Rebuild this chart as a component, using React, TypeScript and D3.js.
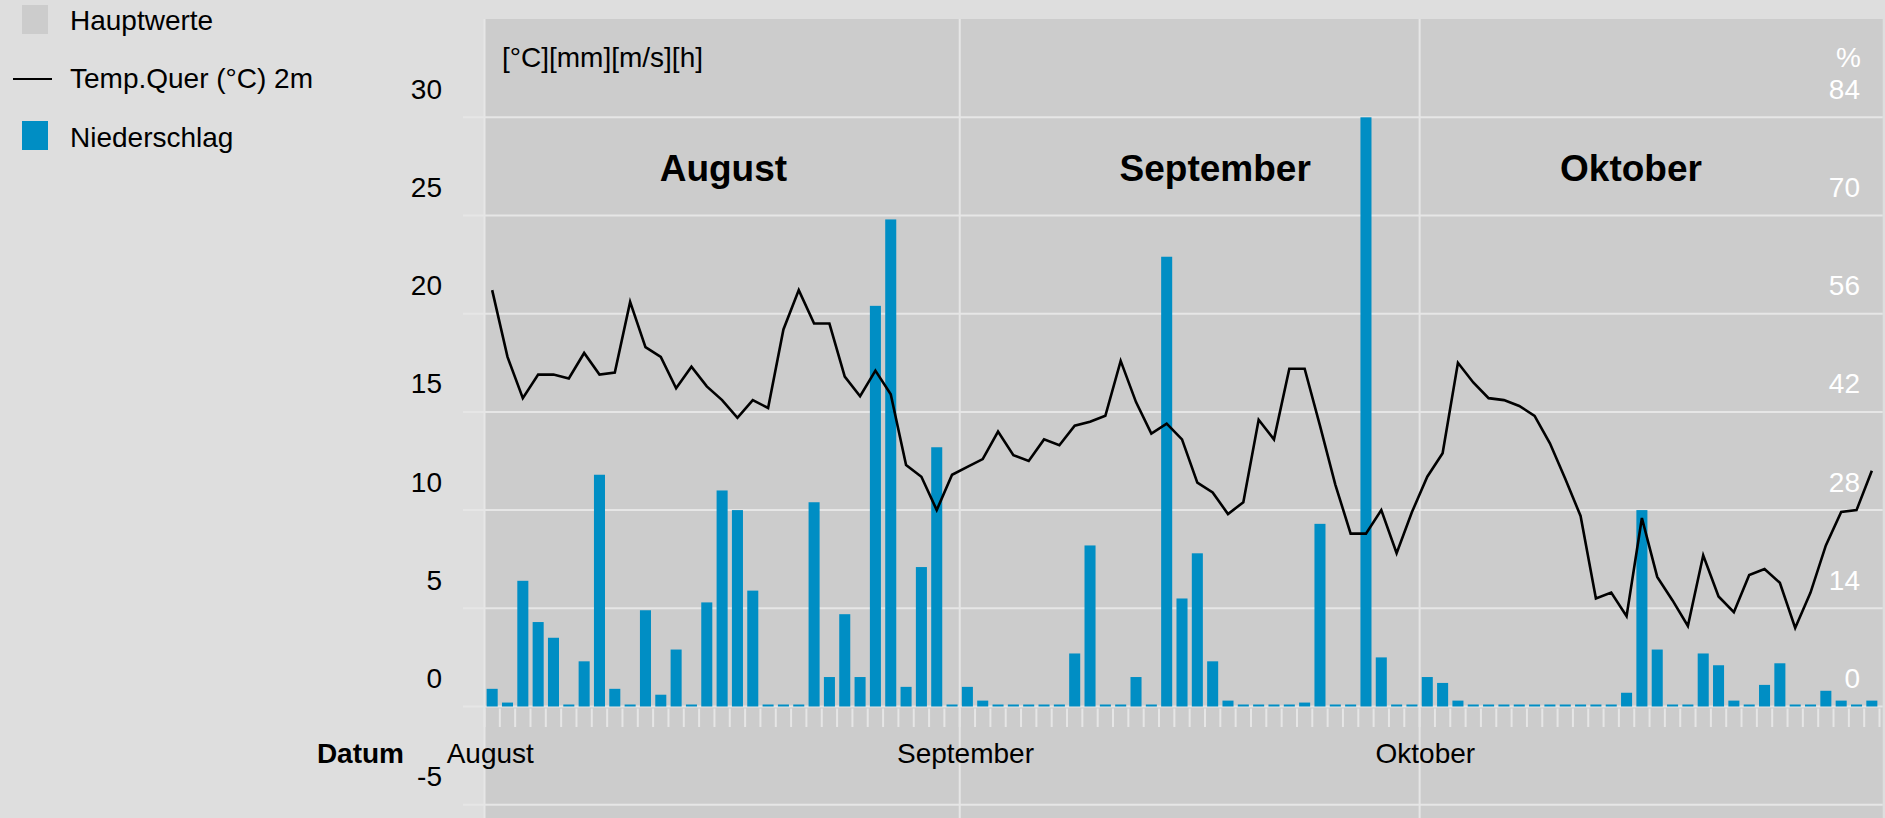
import React from "react";
import * as d3 from "d3";

const width = 1885;
const height = 818;

// Niederschlag [mm] per day
const precipAug = [0.9, 0.2, 6.4, 4.3, 3.5, 0, 2.3, 11.8, 0.9, 0, 4.9, 0.6, 2.9, 0, 5.3, 11.0, 10.0, 5.9, 0, 0, 0, 10.4, 1.5, 4.7, 1.5, 20.4, 24.8, 1.0, 7.1, 13.2, 0];
const precipSep = [1.0, 0.3, 0, 0, 0, 0, 0, 2.7, 8.2, 0, 0, 1.5, 0, 22.9, 5.5, 7.8, 2.3, 0.3, 0, 0, 0, 0, 0.2, 9.3, 0, 0, 30.0, 2.5, 0, 0];
const precipOct = [1.5, 1.2, 0.3, 0, 0, 0, 0, 0, 0, 0, 0, 0, 0, 0.7, 10.0, 2.9, 0, 0, 2.7, 2.1, 0.3, 0, 1.1, 2.2, 0, 0, 0.8, 0.3, 0, 0.3];

// Temp.Quer (°C) 2m, daily mean
const tempAug = [21.2, 17.8, 15.7, 16.9, 16.9, 16.7, 18.0, 16.9, 17.0, 20.6, 18.3, 17.8, 16.2, 17.3, 16.3, 15.6, 14.7, 15.6, 15.2, 19.2, 21.2, 19.5, 19.5, 16.8, 15.8, 17.1, 15.9, 12.3, 11.7, 10.0, 11.8];
const tempSep = [12.2, 12.6, 14.0, 12.8, 12.5, 13.6, 13.3, 14.3, 14.5, 14.8, 17.6, 15.5, 13.9, 14.4, 13.6, 11.4, 10.9, 9.8, 10.4, 14.6, 13.6, 17.2, 17.2, 14.3, 11.3, 8.8, 8.8, 10.0, 7.8, 9.9];
const tempOct = [11.7, 12.9, 17.5, 16.5, 15.7, 15.6, 15.3, 14.8, 13.4, 11.6, 9.7, 5.5, 5.8, 4.6, 9.6, 6.6, 5.4, 4.1, 7.7, 5.6, 4.8, 6.7, 7.0, 6.3, 4.0, 5.8, 8.2, 9.9, 10.0, 12.0];

const leftTicks = [-5, 0, 5, 10, 15, 20, 25, 30];
const rightTicks = [0, 14, 28, 42, 56, 70, 84];
const monthNames = ["August", "September", "Oktober"];
const monthStarts = [new Date(2023, 7, 1), new Date(2023, 8, 1), new Date(2023, 9, 1)];
const titleDates = [new Date(2023, 7, 16, 14), new Date(2023, 8, 17, 16), new Date(2023, 9, 14, 19)];

const startDate = new Date(2023, 7, 1);
const lastDay = new Date(2023, 9, 31);
const endDate = new Date(2023, 9, 31, 5);

const plot = { left: 484.5, right: 1882.7, top: 19, bottom: height };

const outerBg = "#dedede";
const plotBg = "#cccccc";
const gridColor = "#e6e6e6";
const barColor = "#008ec4";
const font = "'Liberation Sans', Arial, sans-serif";
const fs = 28;

export default function App() {
  const precip = [...precipAug, ...precipSep, ...precipOct];
  const temp = [...tempAug, ...tempSep, ...tempOct];
  const days = d3.timeDay.range(startDate, lastDay);
  const noons = days.map((d) => d3.timeHour.offset(d, 12));

  const x = d3.scaleTime().domain([startDate, endDate]).range([plot.left, plot.right]);
  const y = d3.scaleLinear().domain([-5, 30]).range([804.7, 117.3]);
  const yRight = d3.scaleLinear().domain([-14, 84]).range([804.7, 117.3]);

  const dayW = x(days[1]) - x(days[0]);
  const barW = dayW * 0.72;

  const line = d3
    .line<number>()
    .x((_, i) => x(noons[i]))
    .y((d) => y(d));

  const tickDays = d3.timeDay.range(startDate, endDate);

  return (
    <svg
      width={width}
      height={height}
      style={{ position: "absolute", left: 0, top: 0, display: "block" }}
      fontFamily={font}
    >
      <rect x={0} y={0} width={width} height={height} fill={outerBg} />
      <rect x={plot.left} y={plot.top} width={plot.right - plot.left} height={plot.bottom - plot.top} fill={plotBg} />

      {/* grid */}
      {leftTicks.map((t) => (
        <line key={t} x1={463} x2={plot.right} y1={y(t)} y2={y(t)} stroke={gridColor} strokeWidth={2} />
      ))}
      {monthStarts.map((m, i) => (
        <line key={i} x1={x(m)} x2={x(m)} y1={plot.top} y2={plot.bottom} stroke={gridColor} strokeWidth={2} />
      ))}
      {tickDays.map((d, i) => (
        <line key={i} x1={x(d)} x2={x(d)} y1={y(0) + 2} y2={727} stroke={gridColor} strokeWidth={2} />
      ))}

      {/* bars */}
      {precip.map((v, i) => {
        const h = Math.max(2, y(0) - y(v));
        return <rect key={i} x={x(noons[i]) - barW / 2} y={y(0) - h} width={barW} height={h} fill={barColor} />;
      })}

      {/* temperature */}
      <path d={line(temp) || ""} fill="none" stroke="#000" strokeWidth={2.6} strokeLinejoin="miter" />

      {/* month titles */}
      {monthNames.map((m, i) => (
        <text key={m} x={x(titleDates[i])} y={181} textAnchor="middle" fontSize={37} fontWeight="bold" fill="#000">
          {m}
        </text>
      ))}

      {/* x axis labels */}
      {monthNames.map((m, i) => (
        <text key={m} x={x(d3.timeHour.offset(monthStarts[i], 9))} y={763} textAnchor="middle" fontSize={fs} fill="#000">
          {m}
        </text>
      ))}
      <text x={404} y={763} textAnchor="end" fontSize={fs} fontWeight="bold" fill="#000">
        Datum
      </text>

      {/* left axis */}
      {leftTicks.map((t) => (
        <text key={t} x={442} y={y(t) - 18.5} textAnchor="end" fontSize={fs} fill="#000">
          {t}
        </text>
      ))}
      <text x={502} y={67} fontSize={fs} fill="#000">
        [°C][mm][m/s][h]
      </text>

      {/* right axis */}
      {rightTicks.map((t) => (
        <text key={t} x={1860} y={yRight(t) - 18.5} textAnchor="end" fontSize={fs} fill="#fff">
          {t}
        </text>
      ))}
      <text x={1861} y={67} textAnchor="end" fontSize={fs} fill="#fff">
        %
      </text>

      {/* legend */}
      <rect x={22} y={5} width={26} height={29} fill={plotBg} />
      <text x={70} y={30} fontSize={fs} fill="#000">
        Hauptwerte
      </text>
      <line x1={13} x2={52} y1={79} y2={79} stroke="#000" strokeWidth={2} />
      <text x={70} y={88} fontSize={fs} fill="#000">
        Temp.Quer (°C) 2m
      </text>
      <rect x={22} y={121} width={26} height={29} fill={barColor} />
      <text x={70} y={147} fontSize={fs} fill="#000">
        Niederschlag
      </text>
    </svg>
  );
}
